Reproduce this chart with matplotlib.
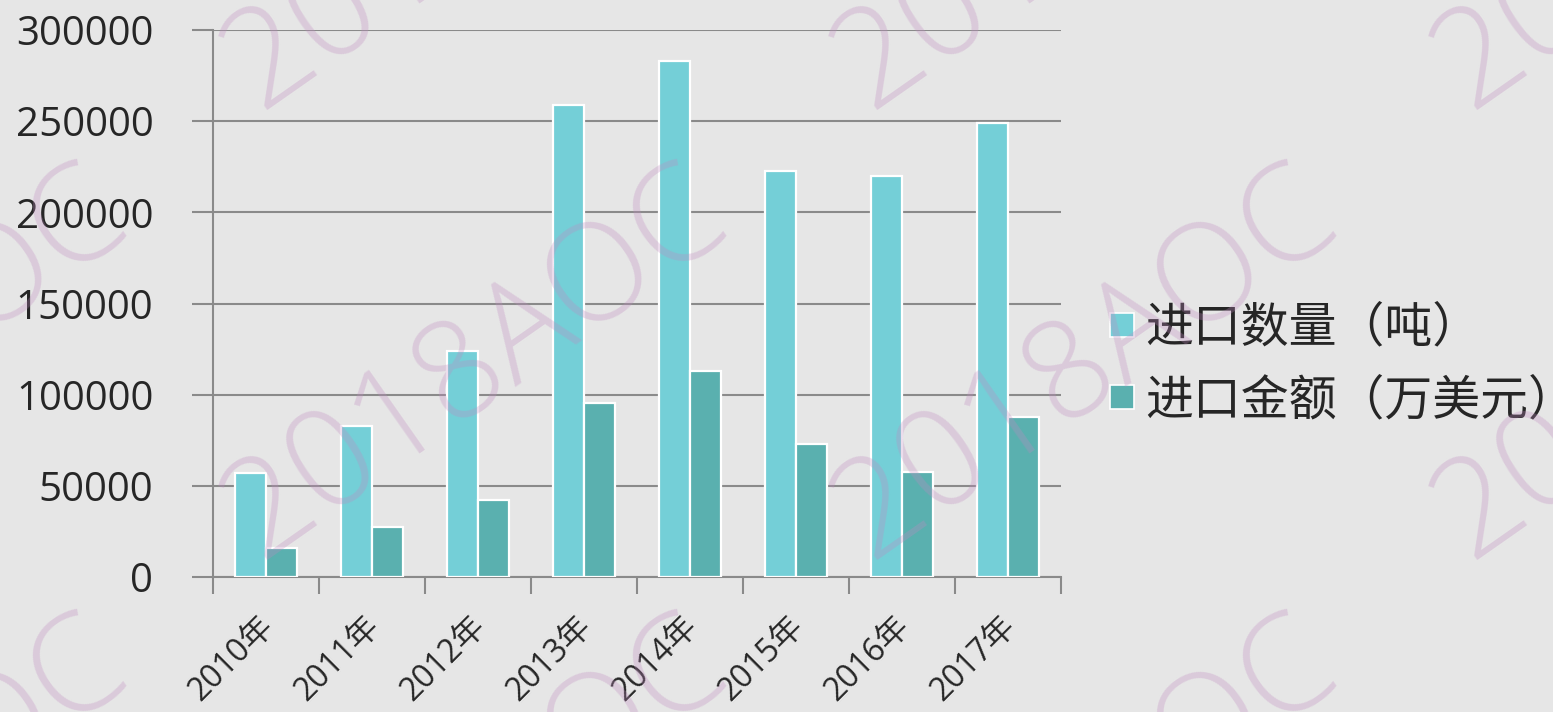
import matplotlib.pyplot as plt
import numpy as np

plt.rcParams['font.family'] = ['Open Sans', 'Noto Sans CJK SC', 'DejaVu Sans']

years = ['2010年', '2011年', '2012年', '2013年', '2014年', '2015年', '2016年', '2017年']
qty = [57000, 82800, 124000, 258900, 283000, 222700, 219900, 249000]
amount = [15900, 27400, 42200, 95400, 113000, 72900, 57600, 87800]
labels = ['进口数量（吨）', '进口金额（万美元）']
colors = ['#74CFD7', '#5AB0AF']
grid_c = '#8a8a8a'

W, H = 1553, 712
fig = plt.figure(figsize=(W/100, H/100), dpi=100)
fig.patch.set_facecolor('#e6e6e6')
ax = fig.add_axes([213/W, 1-577/H, (1061-213)/W, (577-30)/H])
ax.set_facecolor('none')

x = np.arange(len(years))
w = 0.29
ax.bar(x-w/2, qty, w, color=colors[0], edgecolor='white', linewidth=1.6, label=labels[0], zorder=3)
ax.bar(x+w/2, amount, w, color=colors[1], edgecolor='white', linewidth=1.6, label=labels[1], zorder=3)

ax.set_xlim(-0.5, len(years)-0.5)
ax.set_ylim(0, 300000)
ax.set_yticks(range(0, 300001, 50000))
ax.set_yticklabels([str(v) for v in range(0, 300001, 50000)], fontsize=29, color='#262626')
ax.yaxis.grid(True, color=grid_c, linewidth=1.5, zorder=0)
ax.tick_params(axis='y', length=15, width=1.5, color=grid_c, pad=28)

ax.set_xticks(np.arange(len(years)+1)-0.5, minor=False)
ax.set_xticklabels([])
ax.tick_params(axis='x', length=12, width=1.5, color=grid_c)
for i, yr in enumerate(years):
    ax.text(i-0.08, -18000, yr, rotation=45, rotation_mode='anchor', ha='right', va='top',
            fontsize=23, color='#262626')

for s in ['top', 'right']:
    ax.spines[s].set_visible(False)
for s in ['left', 'bottom']:
    ax.spines[s].set_color(grid_c)
    ax.spines[s].set_linewidth(1.5)

handles = [plt.Line2D([], [], marker='s', linestyle='none', markersize=17, markerfacecolor=c,
                      markeredgecolor='white', markeredgewidth=1.2) for c in colors]
fig.legend(handles, labels, loc='center left', bbox_to_anchor=(1104/W, 1-365/H), frameon=False,
           fontsize=34.5, handletextpad=0.1, labelspacing=0.52, handlelength=0.75,
           borderpad=0, borderaxespad=0, labelcolor='#262626')

# watermark
for y0 in [110, 560, 1010]:
    for x0 in [-340, 260, 870, 1470]:
        fig.text(x0/W, 1-y0/H, '2018AOC', rotation=35, rotation_mode='anchor', ha='left', va='baseline',
                 fontsize=98, family='Open Sans', fontweight='light', color='#c08ac0', alpha=0.3, zorder=10)

fig.savefig('out.png', dpi=100, facecolor=fig.get_facecolor())
